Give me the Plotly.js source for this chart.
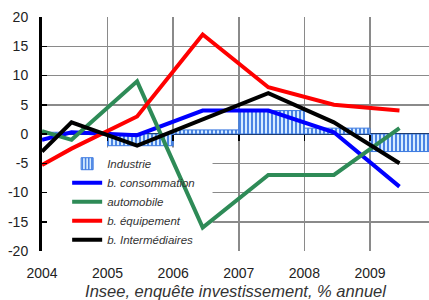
<!DOCTYPE html>
<html>
<head>
<meta charset="utf-8">
<script src="https://cdn.plot.ly/plotly-3.0.1.min.js"></script>
<style>html,body{margin:0;padding:0;background:#fff;}#chart{width:429px;height:300px;}</style>
</head>
<body>
<div id="chart"></div>
<script>
// Data
const barYears = [2004.5, 2005.5, 2006.5, 2007.5, 2008.5, 2009.5];
const industrie = [0.3, -2, 0.7, 4, 1, -3];

const lineX = [2004.0, 2004.45, 2005.45, 2006.45, 2007.45, 2008.45, 2009.45];
const consommation = [-1, 0.3, -0.2, 4, 4, 0.3, -9];
const automobile = [0.5, -1, 9, -16, -7, -7, 1];
const equipement = [-5.3, -2.5, 3, 17, 8, 5, 4];
const intermediaires = [-3, 2, -2, 2.5, 7, 2, -5];

const yearTicks = [2004, 2005, 2006, 2007, 2008, 2009];
const yTicks = [-20, -15, -10, -5, 0, 5, 10, 15, 20];
const yGrid = [-15, -10, -5, 5, 10, 15, 20];

const xRange = [2004, 2009.9];

const lineStyle = (c) => ({color: c, width: 4});

const traces = [
  {type: 'bar', name: 'Industrie', x: barYears, y: industrie, width: 1,
   marker: {color: '#d6ecff', line: {color: '#3a78e0', width: 1},
            pattern: {shape: '|', fgcolor: '#3a78e0', bgcolor: '#d6ecff', size: 4, solidity: 0.45}}},
  {type: 'scatter', mode: 'lines', name: 'b. consommation', x: lineX, y: consommation, line: lineStyle('#0000ff')},
  {type: 'scatter', mode: 'lines', name: 'automobile', x: lineX, y: automobile, line: lineStyle('#2e8b57')},
  {type: 'scatter', mode: 'lines', name: 'b. équipement', x: lineX, y: equipement, line: lineStyle('#ff0000')},
  {type: 'scatter', mode: 'lines', name: 'b. Intermédiaires', x: lineX, y: intermediaires, line: lineStyle('#000000')},
  {type: 'scatter', mode: 'lines', x: yearTicks, y: yearTicks.map(() => null), xaxis: 'x2', showlegend: false, hoverinfo: 'skip'}
];

const layout = {
  width: 429, height: 300,
  margin: {l: 42, r: 0, t: 17, b: 49},
  paper_bgcolor: '#fff', plot_bgcolor: '#fff',
  showlegend: true,
  bargap: 0,
  font: {family: 'Liberation Sans, Arial, sans-serif', color: '#222'},
  xaxis: {
    range: xRange, tickvals: yearTicks, ticktext: yearTicks.map(String),
    showgrid: true, gridcolor: '#8a8a8a', gridwidth: 1.5,
    zeroline: false, showline: false, ticks: '',
    ticklabelstandoff: 12,
    tickfont: {size: 14, color: '#222'},
    title: {text: 'Insee, enquête investissement, % annuel', standoff: 6,
            font: {size: 16.5, color: '#333', family: 'Liberation Sans, Arial, sans-serif', style: 'italic'}}
  },
  xaxis2: {
    range: xRange, overlaying: 'x', anchor: 'free', position: 0.5, side: 'bottom',
    tickvals: yearTicks.slice(1), showticklabels: false, ticks: 'outside', ticklen: 6,
    tickwidth: 1.5, tickcolor: '#000', showgrid: false, zeroline: false, showline: false
  },
  yaxis: {
    range: [-20, 20], tickvals: yTicks, ticktext: yTicks.map(String),
    showgrid: false, zeroline: true, zerolinecolor: '#000', zerolinewidth: 2.5,
    showline: true, linecolor: '#000', linewidth: 3,
    ticks: 'inside', ticklen: 5, tickwidth: 1.5, tickcolor: '#000',
    ticklabelstandoff: 8,
    tickfont: {size: 14, color: '#222'},
    minor: {tickvals: yGrid, showgrid: true, gridcolor: '#8a8a8a', gridwidth: 1.5, ticks: ''}
  },
  legend: {
    x: 0.065, y: 0.435, xanchor: 'left', yanchor: 'top',
    bgcolor: 'rgba(0,0,0,0)', borderwidth: 0,
    font: {size: 11.5, color: '#333', style: 'italic'},
    tracegroupgap: 0
  },
  shapes: [
    {type: 'rect', layer: 'between', xref: 'x', yref: 'y', x0: 2004, x1: 2006.6, y0: -20, y1: -2.3,
     fillcolor: '#fff', line: {width: 0}}
  ]
};

Plotly.newPlot('chart', traces, layout, {displayModeBar: false, staticPlot: true});
</script>
</body>
</html>
